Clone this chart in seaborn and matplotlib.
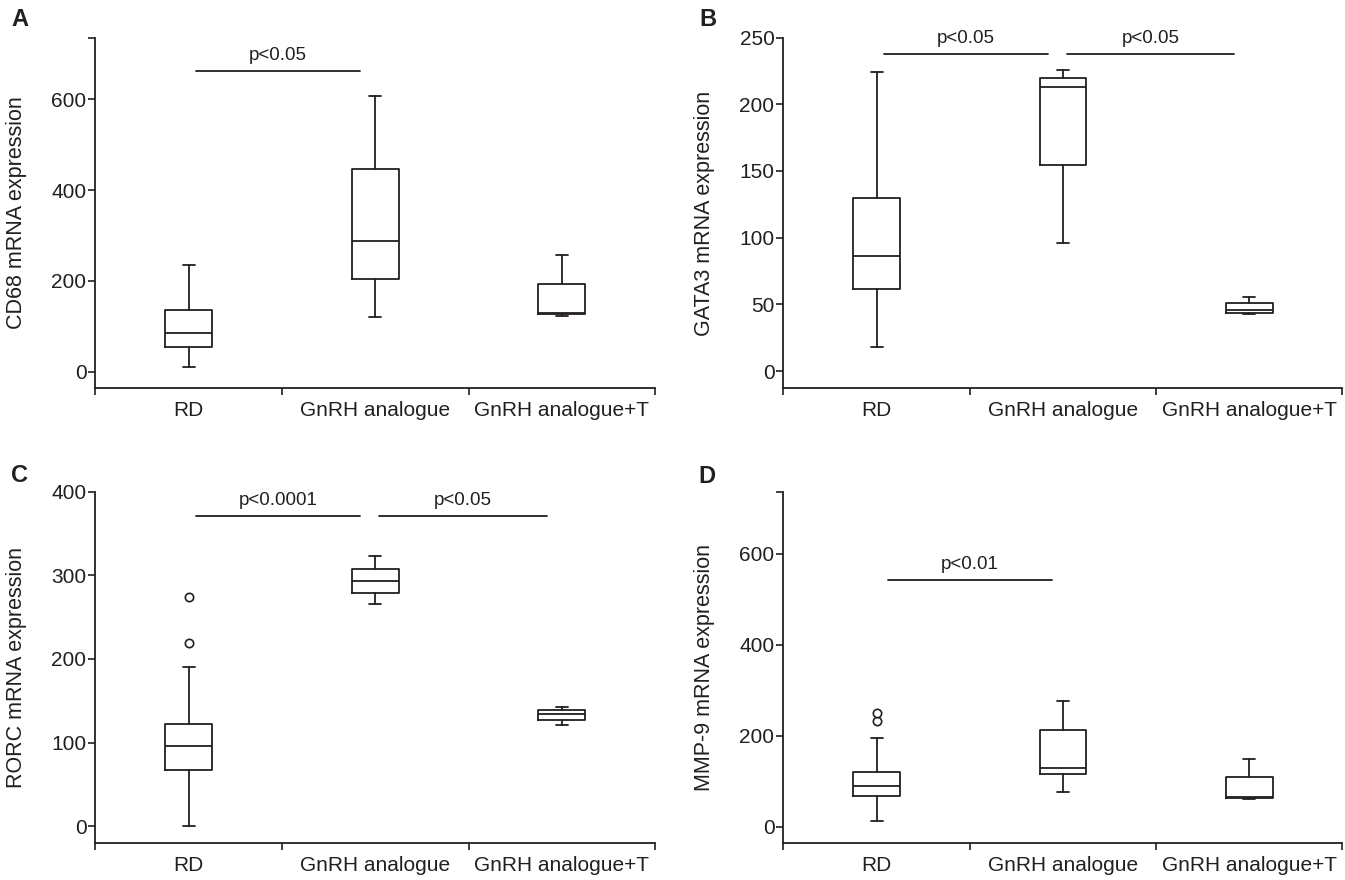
import matplotlib
matplotlib.use("Agg")
import matplotlib.pyplot as plt
import seaborn as sns

sns.set_theme(style="ticks")
plt.rcParams['font.family'] = ['Liberation Sans', 'DejaVu Sans']

INK = '#231f20'

groups = ["RD", "GnRH analogue", "GnRH analogue+T"]

# A - CD68
cd68_whislo = [11, 121, 123]
cd68_q1 = [55, 203, 127]
cd68_med = [86, 287, 130]
cd68_q3 = [136, 446, 194]
cd68_whishi = [235, 608, 257]
cd68_fliers = [[], [], []]
cd68_sig = [(0.04, 0.92, 663, "p<0.05")]

# B - GATA3
gata3_whislo = [18, 96, 42.8]
gata3_q1 = [61.8, 154.5, 43.8]
gata3_med = [86, 213, 45.5]
gata3_q3 = [129.5, 219.5, 50.8]
gata3_whishi = [224.5, 225.5, 55.5]
gata3_fliers = [[], [], []]
gata3_sig = [(0.04, 0.92, 237.5, "p<0.05"), (1.02, 1.92, 237.5, "p<0.05")]

# C - RORC
rorc_whislo = [0, 266, 121]
rorc_q1 = [67.4, 279, 127]
rorc_med = [96, 293, 134]
rorc_q3 = [122, 308, 138.8]
rorc_whishi = [190, 323, 142.7]
rorc_fliers = [[219, 274], [], []]
rorc_sig = [(0.04, 0.92, 371, "p<0.0001"), (1.02, 1.92, 371, "p<0.05")]

# D - MMP-9
mmp9_whislo = [12.5, 77, 60]
mmp9_q1 = [67, 115, 63.5]
mmp9_med = [90, 130, 66]
mmp9_q3 = [119.5, 212, 110]
mmp9_whishi = [194, 276, 149]
mmp9_fliers = [[232, 250], [], []]
mmp9_sig = [(0.06, 0.94, 541.5, "p<0.01")]


def make_stats(lo, q1, med, q3, hi, fl):
    return [dict(whislo=a, q1=b, med=c, q3=d, whishi=e, fliers=f, label=g)
            for a, b, c, d, e, f, g in zip(lo, q1, med, q3, hi, fl, groups)]


def draw_panel(ax, stats, ylabel, ylim, yticks, sig, letter, letter_xy):
    lp = dict(color=INK, linewidth=1.3)
    ax.bxp(stats, positions=[0, 1, 2], widths=0.25, capwidths=0.065,
           boxprops=lp, whiskerprops=lp, capprops=lp, medianprops=lp,
           flierprops=dict(marker='o', markersize=6, markerfacecolor='white',
                           markeredgecolor=INK, markeredgewidth=1.2))
    ax.set_xlim(-0.5, 2.5)
    ax.set_ylim(*ylim)
    ax.set_xticks([0, 1, 2])
    ax.set_xticklabels(groups, fontsize=15, color=INK)
    ax.set_xticks([-0.5, 0.5, 1.5, 2.5], minor=True)
    ax.tick_params(axis='x', which='major', length=0, pad=9)
    ax.tick_params(axis='x', which='minor', length=5, width=1.2, color=INK)
    ax.set_yticks(yticks)
    ax.set_yticks([ylim[1]], minor=True)
    ax.tick_params(axis='y', which='both', length=5, width=1.2, color=INK,
                   pad=1.5, labelsize=15, labelcolor=INK)
    ax.set_ylabel(ylabel, fontsize=15.5, color=INK)
    ax.yaxis.set_label_coords(-0.122, 0.5)
    sns.despine(ax=ax)
    for side in ['left', 'bottom']:
        ax.spines[side].set_color(INK)
        ax.spines[side].set_linewidth(1.3)
    ax.set_facecolor('white')
    for x0, x1, y, txt in sig:
        ax.plot([x0, x1], [y, y], color=INK, linewidth=1.3)
        ax.annotate(txt, xy=((x0 + x1) / 2, y), xytext=(0, 5),
                    textcoords='offset points', ha='center', va='bottom',
                    fontsize=13.5, color=INK)
    fig.text(letter_xy[0] / 1345, 1 - letter_xy[1] / 880, letter,
             fontsize=17, fontweight='bold', color=INK, ha='center', va='center')


fig = plt.figure(figsize=(13.45, 8.8), dpi=100)
fig.patch.set_facecolor('white')
axA = fig.add_axes([0.0710, 0.5587, 0.416, 0.3986])
axB = fig.add_axes([0.5825, 0.5587, 0.4156, 0.3986])
axC = fig.add_axes([0.0710, 0.0417, 0.416, 0.3995])
axD = fig.add_axes([0.5825, 0.0417, 0.4156, 0.3995])

draw_panel(axA, make_stats(cd68_whislo, cd68_q1, cd68_med, cd68_q3, cd68_whishi, cd68_fliers),
           "CD68 mRNA expression", (-37, 736), [0, 200, 400, 600], cd68_sig, "A", (20, 20))
draw_panel(axB, make_stats(gata3_whislo, gata3_q1, gata3_med, gata3_q3, gata3_whishi, gata3_fliers),
           "GATA3 mRNA expression", (-13, 250), [0, 50, 100, 150, 200, 250], gata3_sig, "B", (708, 20))
draw_panel(axC, make_stats(rorc_whislo, rorc_q1, rorc_med, rorc_q3, rorc_whishi, rorc_fliers),
           "RORC mRNA expression", (-20.5, 400), [0, 100, 200, 300, 400], rorc_sig, "C", (20, 475))
draw_panel(axD, make_stats(mmp9_whislo, mmp9_q1, mmp9_med, mmp9_q3, mmp9_whishi, mmp9_fliers),
           "MMP-9 mRNA expression", (-36.5, 736), [0, 200, 400, 600], mmp9_sig, "D", (707, 476))

fig.savefig("out.png", dpi=100, facecolor='white')
